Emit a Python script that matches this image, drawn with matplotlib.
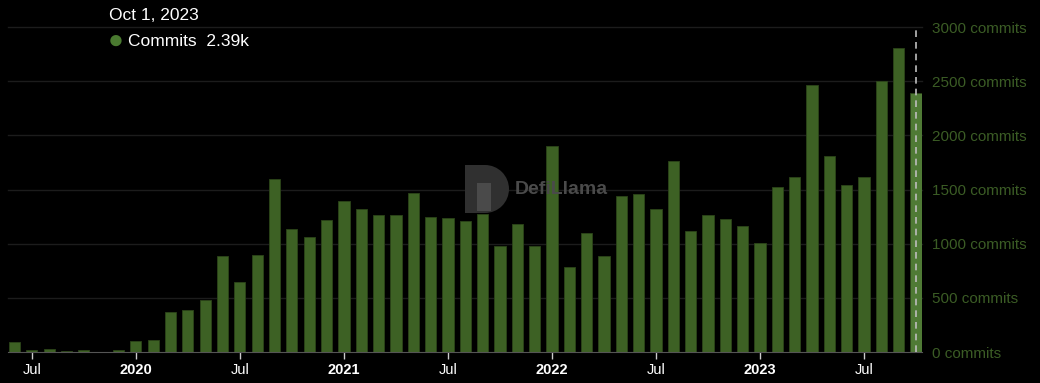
import matplotlib.pyplot as plt
from matplotlib.patches import Wedge, Rectangle
from matplotlib.transforms import IdentityTransform

plt.rcParams['font.family'] = ['Liberation Sans', 'DejaVu Sans']

# monthly commits, Jun 2019 .. Oct 2023
months = ['2019-06', '2019-07', '2019-08', '2019-09', '2019-10', '2019-11', '2019-12',
          '2020-01', '2020-02', '2020-03', '2020-04', '2020-05', '2020-06', '2020-07',
          '2020-08', '2020-09', '2020-10', '2020-11', '2020-12',
          '2021-01', '2021-02', '2021-03', '2021-04', '2021-05', '2021-06', '2021-07',
          '2021-08', '2021-09', '2021-10', '2021-11', '2021-12',
          '2022-01', '2022-02', '2022-03', '2022-04', '2022-05', '2022-06', '2022-07',
          '2022-08', '2022-09', '2022-10', '2022-11', '2022-12',
          '2023-01', '2023-02', '2023-03', '2023-04', '2023-05', '2023-06', '2023-07',
          '2023-08', '2023-09', '2023-10']
commits = [95, 21, 30, 12, 18, 0, 15,
           98, 107, 373, 385, 481, 884, 647,
           900, 1600, 1134, 1060, 1215,
           1395, 1324, 1261, 1261, 1464, 1245, 1233,
           1208, 1270, 974, 1177, 974,
           1902, 782, 1096, 890, 1436, 1455, 1323,
           1763, 1119, 1264, 1230, 1159,
           1004, 1520, 1615, 2466, 1807, 1538, 1619,
           2503, 2805, 2390]

tick_labels = ['Jul', '2020', 'Jul', '2021', 'Jul', '2022', 'Jul', '2023', 'Jul']
tick_months = ['2019-07', '2020-01', '2020-07', '2021-01', '2021-07',
               '2022-01', '2022-07', '2023-01', '2023-07']
yticks = [0, 500, 1000, 1500, 2000, 2500, 3000]

bar_col = '#3d6124'
hi_col = '#4f7a35'
label_col = '#3b5c25'

fig = plt.figure(figsize=(10.4, 3.83), dpi=100, facecolor='black')
ax = fig.add_axes([8 / 1040, 31 / 383, 914 / 1040, 325 / 383])
ax.set_facecolor('black')

xs = list(range(len(months)))
colors = [bar_col] * (len(months) - 1) + [hi_col]
ax.bar(xs, commits, width=0.65, color=colors, edgecolor='#2c4519', linewidth=0.6, zorder=2)

ax.set_xlim(-0.375, len(months) - 1 + 0.35)
ax.set_ylim(0, 3000)

for y in yticks[1:]:
    ax.axhline(y, color='#1c1c1c', linewidth=1, zorder=1, clip_on=False)

ax.vlines(xs[-1], 0, 3000, colors='#bdbdbd', linestyles=(0, (4, 3)), linewidth=1.2, zorder=3)

ax.yaxis.tick_right()
ax.set_yticks(yticks)
ax.set_yticklabels([f'{v} commits' for v in yticks])
ax.tick_params(axis='y', length=0, pad=7, labelsize=11, labelcolor=label_col)

ax.set_xticks([months.index(m) for m in tick_months])
ax.set_xticklabels(tick_labels)
ax.tick_params(axis='x', length=5, width=1, color='#cccccc', labelsize=10.5,
               labelcolor='white', pad=3)
for lab in ax.get_xticklabels():
    if lab.get_text() != 'Jul':
        lab.set_fontweight('bold')

for s in ['top', 'left', 'right']:
    ax.spines[s].set_visible(False)
ax.spines['bottom'].set_color('#555555')

# watermark (D-shaped logo + name), pixel coords from bottom-left
px = IdentityTransform()
ax.add_patch(Rectangle((465, 170), 20, 48, transform=px, facecolor='#303030',
                       edgecolor='none', zorder=1.5))
ax.add_patch(Wedge((485, 194), 24, -90, 90, transform=px, facecolor='#303030',
                   edgecolor='none', zorder=1.5))
ax.add_patch(Rectangle((477, 172), 14, 28, transform=px, facecolor='#4a4a4a',
                       edgecolor='none', zorder=1.6))
fig.text(515 / 1040, 1 - 190 / 383, 'DefiLlama', color='#4a4a4a', fontsize=14,
         fontweight='bold', va='center', ha='left', zorder=1)

# tooltip
fig.text(109 / 1040, 1 - 15 / 383, 'Oct 1, 2023', color='white', fontsize=12.5,
         va='center', ha='left')
fig.text(108 / 1040, 1 - 41 / 383, '\u25cf', color='#4a7a30', fontsize=19,
         va='center', ha='left')
fig.text(128 / 1040, 1 - 41 / 383, 'Commits  2.39k', color='white', fontsize=12.5,
         va='center', ha='left')

fig.savefig('out.png', dpi=100, facecolor='black')
